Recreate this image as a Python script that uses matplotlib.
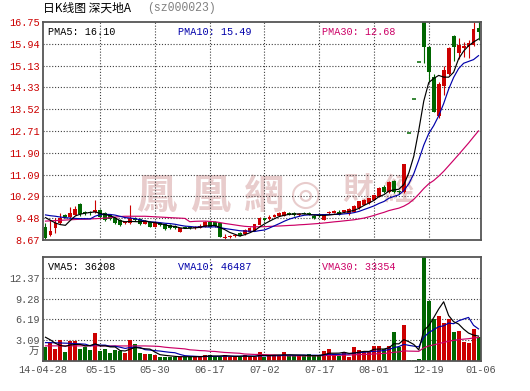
import numpy as np
import pandas as pd
import matplotlib
matplotlib.use("Agg")
import matplotlib.pyplot as plt

plt.rcParams['font.family'] = ['Liberation Mono', 'Noto Sans CJK SC', 'DejaVu Sans']

# daily OHLC (yuan), 88 trading days, 14-04-28 .. 15-01-06
opens = [9.16, 8.86, 9.10, 9.29, 9.60, 9.54, 9.60, 10.00, 9.72, 9.72,
         9.69, 9.78, 9.66, 9.60, 9.50, 9.41, 9.29, 9.29, 9.48, 9.44,
         9.28, 9.35, 9.17, 9.30, 9.25, 9.22, 9.19, 8.98, 9.17, 9.17,
         9.10, 9.12, 9.17, 9.35, 9.32, 9.29, 8.73, 8.77, 8.80, 8.92,
         8.88, 8.98, 9.02, 9.23, 9.47, 9.44, 9.54, 9.57, 9.57, 9.68,
         9.66, 9.60, 9.68, 9.66, 9.57, 9.60, 9.41, 9.66, 9.68, 9.70,
         9.69, 9.63, 9.72, 9.84, 9.97, 10.03, 10.16, 10.27, 10.65, 10.44,
         10.86, 10.49, 10.44, 12.63, 13.89, 15.28, 16.81, 15.81, 14.71, 13.27,
         14.38, 14.81, 16.23, 15.59, 15.80, 15.83, 15.90, 16.53]
highs = [9.29, 9.41, 9.47, 9.67, 9.63, 9.91, 9.94, 10.03, 9.76, 9.76,
         10.15, 9.82, 9.70, 9.63, 9.53, 9.45, 9.38, 9.97, 9.52, 9.47,
         9.40, 9.38, 9.38, 9.33, 9.28, 9.25, 9.22, 9.13, 9.20, 9.20,
         9.20, 9.25, 9.38, 9.38, 9.36, 9.31, 8.88, 8.87, 8.86, 8.95,
         9.06, 9.15, 9.27, 9.52, 9.50, 9.58, 9.63, 9.72, 9.75, 9.72,
         9.70, 9.68, 9.72, 9.70, 9.60, 9.66, 9.65, 9.76, 9.80, 9.78,
         9.80, 9.84, 9.96, 10.13, 10.18, 10.24, 10.34, 10.63, 10.72, 10.85,
         10.90, 10.53, 11.48, 12.63, 13.89, 15.28, 16.81, 15.85, 14.81, 14.54,
         15.13, 15.82, 16.27, 16.17, 16.02, 16.09, 16.74, 16.80]
lows = [8.72, 8.80, 8.93, 9.25, 9.50, 9.48, 9.58, 9.56, 9.60, 9.60,
        9.66, 9.50, 9.38, 9.40, 9.26, 9.20, 9.25, 9.27, 9.38, 9.23,
        9.25, 9.14, 9.15, 9.20, 9.04, 9.08, 9.08, 8.95, 9.10, 9.08,
        9.08, 9.10, 9.15, 9.15, 9.15, 8.77, 8.67, 8.74, 8.77, 8.80,
        8.86, 8.96, 9.00, 9.21, 9.38, 9.42, 9.52, 9.55, 9.55, 9.58,
        9.56, 9.57, 9.62, 9.60, 9.44, 9.52, 9.40, 9.64, 9.66, 9.58,
        9.66, 9.60, 9.70, 9.82, 9.95, 10.01, 10.14, 10.25, 10.42, 10.42,
        10.40, 10.36, 10.40, 12.63, 13.89, 15.28, 15.23, 14.54, 13.40, 13.20,
        14.04, 14.78, 15.32, 15.37, 15.45, 15.43, 15.85, 16.08]
closes = [8.76, 9.00, 9.29, 9.48, 9.54, 9.68, 9.82, 9.62, 9.66, 9.68,
          9.78, 9.53, 9.41, 9.45, 9.29, 9.23, 9.35, 9.47, 9.42, 9.26,
          9.36, 9.17, 9.35, 9.23, 9.07, 9.10, 9.11, 9.10, 9.11, 9.11,
          9.17, 9.20, 9.35, 9.17, 9.18, 8.79, 8.79, 8.83, 8.84, 8.83,
          9.04, 9.13, 9.25, 9.50, 9.41, 9.54, 9.60, 9.66, 9.72, 9.60,
          9.58, 9.64, 9.64, 9.63, 9.47, 9.55, 9.63, 9.70, 9.74, 9.60,
          9.78, 9.81, 9.93, 10.10, 10.15, 10.21, 10.32, 10.61, 10.46, 10.81,
          10.44, 10.44, 11.48, 12.63, 13.89, 15.28, 15.81, 14.91, 13.40, 14.45,
          14.97, 15.79, 15.82, 15.90, 15.87, 15.96, 16.49, 16.38]
# volume in 万 (10k) lots
volumes = [2.09, 2.63, 1.74, 3.13, 1.39, 3.03, 3.03, 1.74, 2.04, 1.69,
           4.23, 1.54, 1.79, 1.24, 1.64, 1.54, 1.24, 3.13, 2.53, 1.14,
           1.04, 1.00, 0.89, 0.64, 0.64, 0.64, 0.64, 0.64, 0.64, 0.64,
           0.64, 0.64, 0.89, 0.89, 0.64, 0.64, 0.89, 0.64, 0.64, 0.64,
           0.89, 0.64, 0.64, 1.34, 0.64, 0.84, 0.84, 0.84, 1.34, 0.74,
           0.74, 0.74, 0.74, 1.04, 0.74, 0.74, 1.49, 1.79, 1.04, 0.79,
           1.39, 0.64, 2.09, 1.69, 1.34, 1.34, 2.24, 2.24, 1.74, 2.24,
           4.38, 2.14, 5.37, 0.20, 0.20, 0.35, 16.50, 8.96, 6.22, 6.62,
           5.72, 6.27, 4.38, 4.48, 2.88, 2.73, 4.77, 3.63]

# moving-average values before the window is full (they use older history)
pma5_head = [9.50, 9.40, 9.30, 9.24]
pma10_head = [9.60, 9.57, 9.55, 9.52, 9.50, 9.48, 9.47, 9.46, 9.46]
pma30_head = [9.37, 9.38, 9.39, 9.40, 9.41, 9.42, 9.43, 9.44, 9.44, 9.45,
              9.46, 9.47, 9.48, 9.50, 9.52, 9.54, 9.55, 9.55, 9.55, 9.55,
              9.55, 9.54, 9.53, 9.52, 9.51, 9.50, 9.49, 9.48, 9.47]
vma5_head = [3.53, 3.13, 2.63, 2.29]
vma10_head = [2.73, 2.73, 2.70, 2.68, 2.65, 2.62, 2.58, 2.54, 2.50]
vma30_head = [2.25, 2.25, 2.25, 2.25, 2.25, 2.25, 2.25, 2.25, 2.25, 2.25,
              2.25, 2.25, 2.25, 2.24, 2.24, 2.24, 2.24, 2.24, 2.24, 2.24,
              2.24, 2.22, 2.20, 2.15, 2.05, 1.98, 1.92, 1.86, 1.80]

date_labels = ['14-04-28', '05-15', '05-30', '06-17', '07-02', '07-17', '08-01', '12-19', '01-06']
price_ticks = [8.67, 9.48, 10.29, 11.09, 11.90, 12.71, 13.52, 14.33, 15.13, 15.94, 16.75]
vol_ticks = [3.09, 6.19, 9.28, 12.37]
vol_top = 15.46

RED = '#cc0000'
GREEN = '#006600'
BLUE = '#0000aa'
PINK = '#cc0066'
GRID = '#404040'
FRAME = '#555555'
MARK = '#e8cccc'


def moving_avg(values, n, head):
    m = pd.Series(values).rolling(n).mean().to_numpy()
    m[:n - 1] = head
    return m


o = np.array(opens)
h = np.array(highs)
l = np.array(lows)
c = np.array(closes)
v = np.array(volumes)
n = len(c)
x = np.arange(n)
col = np.where(c > o, RED, GREEN)

fig = plt.figure(figsize=(5.3, 3.91), dpi=100)
ax1 = fig.add_axes([43 / 530, 1 - 240 / 391, 438 / 530, 218 / 391])
ax2 = fig.add_axes([43 / 530, 1 - 361 / 391, 438 / 530, 104 / 391])

grid_x = list(range(11, n - 10, 11))

# ---- price panel
ax1.set_xlim(-0.5, n - 0.5)
ax1.set_ylim(price_ticks[0], price_ticks[-1])

# watermark
for ch, px in zip('鳳凰網', [156, 210, 264]):
    ax1.text((px - 43) / 438, (240 - 196) / 218, ch, transform=ax1.transAxes,
             ha='center', va='center', fontsize=29, color=MARK, fontweight='bold',
             family=['Noto Sans CJK TC'], zorder=0)
ax1.text((306 - 43) / 438, (240 - 195) / 218, '◎', transform=ax1.transAxes,
         ha='center', va='center', fontsize=26, color=MARK,
         family=['DejaVu Sans'], zorder=0)
for ch, px in zip('財經', [358, 398]):
    ax1.text((px - 43) / 438, (240 - 190) / 218, ch, transform=ax1.transAxes,
             ha='center', va='center', fontsize=22, color=MARK, fontweight='bold',
             family=['Noto Sans CJK TC'], zorder=0)

for yv in price_ticks[1:-1]:
    ax1.axhline(yv, color=GRID, lw=0.8, ls=(0, (1, 1.6)), zorder=1)
for xv in grid_x:
    ax1.axvline(xv, color=GRID, lw=0.8, ls=(0, (1, 1.6)), zorder=1)

ax1.vlines(x, l, h, color=col, lw=0.8, zorder=2)
body = np.abs(c - o)
ax1.bar(x, body, bottom=np.minimum(o, c), width=0.78, color=col, lw=0, zorder=2)
flat = body == 0
ax1.hlines(c[flat], x[flat] - 0.45, x[flat] + 0.45, color=col[flat], lw=1.1, zorder=2)

ax1.plot(x, moving_avg(c, 30, pma30_head), color=PINK, lw=0.85, zorder=3)
ax1.plot(x, moving_avg(c, 10, pma10_head), color=BLUE, lw=0.85, zorder=3)
ax1.plot(x, moving_avg(c, 5, pma5_head), color='black', lw=0.85, zorder=3)

ax1.set_yticks(price_ticks)
ax1.set_yticklabels(['%.2f' % t for t in price_ticks])
ax1.tick_params(axis='y', length=0, pad=2, labelsize=7.4, labelcolor=RED)
ax1.set_xticks([])

ax1.text(5 / 438, 1 - 10 / 218, 'PMA5: 16.10', transform=ax1.transAxes,
         va='center', fontsize=7.3, color='black', zorder=4)
ax1.text(135 / 438, 1 - 10 / 218, 'PMA10: 15.49', transform=ax1.transAxes,
         va='center', fontsize=7.3, color=BLUE, zorder=4)
ax1.text(279 / 438, 1 - 10 / 218, 'PMA30: 12.68', transform=ax1.transAxes,
         va='center', fontsize=7.3, color=PINK, zorder=4)

# ---- volume panel
ax2.set_xlim(-0.5, n - 0.5)
ax2.set_ylim(0, vol_top)
for yv in vol_ticks:
    ax2.axhline(yv, color=GRID, lw=0.8, ls=(0, (1, 1.6)), zorder=1)
for xv in grid_x:
    ax2.axvline(xv, color=GRID, lw=0.8, ls=(0, (1, 1.6)), zorder=1)

ax2.bar(x, v, width=0.8, color=col, lw=0, zorder=2)
ax2.plot(x, moving_avg(v, 30, vma30_head), color=PINK, lw=0.85, zorder=3)
ax2.plot(x, moving_avg(v, 10, vma10_head), color=BLUE, lw=0.85, zorder=3)
ax2.plot(x, moving_avg(v, 5, vma5_head), color='black', lw=0.85, zorder=3)

ax2.set_yticks(vol_ticks)
ax2.set_yticklabels(['%.2f' % t for t in vol_ticks])
ax2.tick_params(axis='y', length=0, pad=2, labelsize=7.4, labelcolor='#505050')
ax2.text(-4 / 438, 9 / 104, '万', transform=ax2.transAxes, ha='right', va='center',
         fontsize=7.5, color='#505050', family=['Noto Sans CJK SC'])

ax2.set_xticks([-0.5] + grid_x + [n - 0.5])
ax2.set_xticklabels(date_labels)
ax2.tick_params(axis='x', length=0, pad=3, labelsize=7.4, labelcolor='#505050')

ax2.text(5 / 438, 1 - 10 / 104, 'VMA5: 36208', transform=ax2.transAxes,
         va='center', fontsize=7.3, color='black', zorder=4)
ax2.text(135 / 438, 1 - 10 / 104, 'VMA10: 46487', transform=ax2.transAxes,
         va='center', fontsize=7.3, color=BLUE, zorder=4)
ax2.text(279 / 438, 1 - 10 / 104, 'VMA30: 33354', transform=ax2.transAxes,
         va='center', fontsize=7.3, color=PINK, zorder=4)

for ax in (ax1, ax2):
    for sp in ax.spines.values():
        sp.set_color(FRAME)
        sp.set_linewidth(1.3)

fig.text(43 / 530, 1 - 8 / 391, '日K线图 深天地A', ha='left', va='center',
         fontsize=8.5, color='black', family=['Noto Sans CJK SC'])
fig.text(147 / 530, 1 - 8 / 391, '(sz000023)', ha='left', va='center',
         fontsize=8.3, color='#808080')

fig.savefig('out.png', dpi=100)
